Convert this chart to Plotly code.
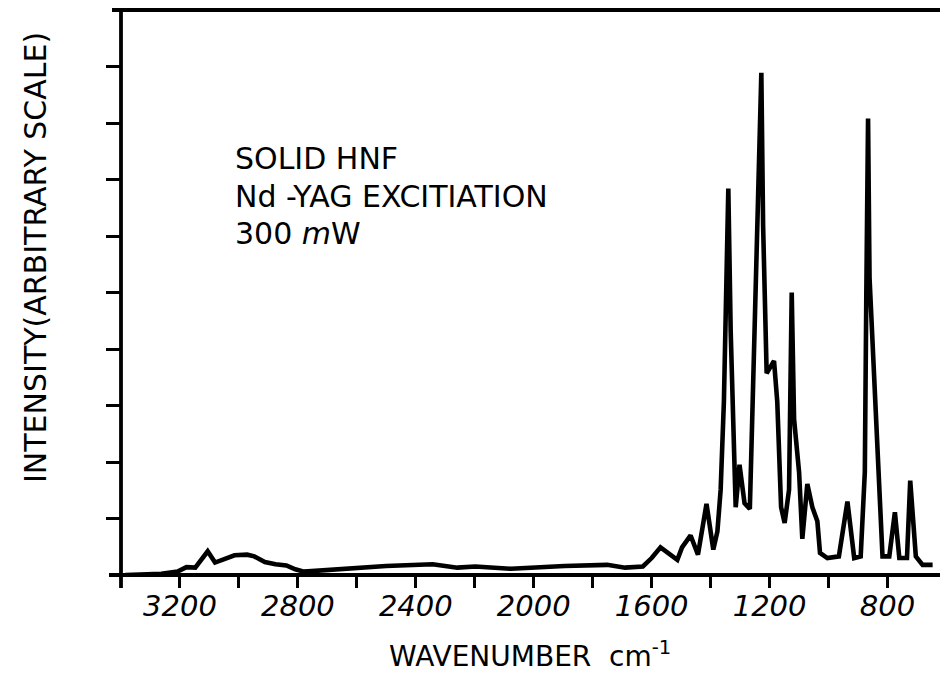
import plotly.graph_objects as go

# Raman spectrum of solid HNF, Nd-YAG excitation (wavenumber in cm^-1, arbitrary intensity)
wavenumber = [
    3385, 3263, 3208, 3178, 3148, 3130, 3106, 3081, 3051, 3015, 2972, 2948,
    2912, 2876, 2839, 2809, 2779, 2718, 2622, 2501, 2343, 2259, 2198, 2077,
    1896, 1751, 1690, 1630, 1600, 1570, 1513, 1497, 1468, 1443, 1414, 1391,
    1377, 1366, 1355, 1346, 1340, 1332, 1315, 1302, 1285, 1267, 1253, 1240,
    1228, 1222, 1210, 1185, 1174, 1161, 1149, 1134, 1125, 1117, 1100, 1089,
    1072, 1055, 1038, 1029, 1004, 965, 936, 913, 891, 877, 872, 866,
    861, 847, 834, 817, 794, 775, 760, 734, 723, 704, 681, 647,
]
intensity = [
    0.00, 0.02, 0.06, 0.14, 0.13, 0.25, 0.42, 0.22, 0.28, 0.35, 0.36, 0.33,
    0.23, 0.19, 0.17, 0.10, 0.06, 0.08, 0.11, 0.16, 0.19, 0.13, 0.15, 0.11,
    0.16, 0.18, 0.13, 0.15, 0.30, 0.49, 0.27, 0.49, 0.70, 0.36, 1.26, 0.45,
    0.77, 1.51, 3.07, 4.94, 6.84, 4.32, 1.20, 1.95, 1.27, 1.17, 4.32, 6.50,
    8.89, 6.18, 3.57, 3.79, 3.07, 1.20, 0.92, 1.51, 5.00, 2.76, 1.82, 0.64,
    1.61, 1.20, 0.95, 0.39, 0.30, 0.33, 1.30, 0.30, 0.33, 1.82, 4.94, 8.08,
    5.26, 3.70, 2.45, 0.33, 0.33, 1.11, 0.30, 0.30, 1.67, 0.33, 0.18, 0.18,
]

x_tick_values = [3200, 2800, 2400, 2000, 1600, 1200, 800]
x_tick_labels = ["3200", "2800", "2400", "2000", "1600", "1200", "800"]
x_minor_ticks = [3000, 2600, 2200, 1800, 1400, 1000]
y_tick_values = [1, 2, 3, 4, 5, 6, 7, 8, 9]

sample_lines = ["SOLID HNF", "Nd -YAG EXCITIATION", "300 <i>m</i>W"]

FONT = "DejaVu Sans"
INK = "black"

W, H = 940, 700
ML, MR, MT, MB = 121, 0, 10, 125
PW, PH = W - ML - MR, H - MT - MB


def px_to_paper_x(px):
    return (px - ML) / PW


def px_to_paper_y(py):
    return (H - MB - py) / PH


fig = go.Figure()
fig.add_trace(go.Scatter(
    x=wavenumber, y=intensity, mode="lines",
    line=dict(color=INK, width=4.6),
    hoverinfo="skip", showlegend=False,
))

fig.update_layout(
    width=W, height=H,
    margin=dict(l=ML, r=MR, t=MT, b=MB, pad=0),
    paper_bgcolor="white", plot_bgcolor="white",
    xaxis=dict(
        range=[3400, 622], showgrid=False, zeroline=False, showline=False,
        tickmode="array", tickvals=x_tick_values, ticktext=x_tick_labels,
        ticks="outside", ticklen=12, tickwidth=3, tickcolor=INK,
        ticklabelstandoff=-7,
        tickfont=dict(family=FONT, size=29, color=INK, style="italic"),
        minor=dict(tickmode="array", tickvals=x_minor_ticks, ticks="outside",
                   ticklen=12, tickwidth=3, tickcolor=INK, showgrid=False),
    ),
    yaxis=dict(
        range=[0, 10], showgrid=False, zeroline=False, showline=False,
        tickmode="array", tickvals=y_tick_values, showticklabels=False,
        ticks="outside", ticklen=14, tickwidth=3, tickcolor=INK,
    ),
)

# Frame: bottom axis, left axis and top border, with short overhangs
axis_w = 3.8
fig.add_shape(type="line", xref="paper", yref="paper",
              x0=px_to_paper_x(109), x1=1.0, y0=0, y1=0,
              line=dict(color=INK, width=axis_w))
fig.add_shape(type="line", xref="paper", yref="paper",
              x0=0, x1=0, y0=px_to_paper_y(588), y1=1.0,
              line=dict(color=INK, width=axis_w))
fig.add_shape(type="line", xref="paper", yref="paper",
              x0=px_to_paper_x(112), x1=1.0, y0=1.0, y1=1.0,
              line=dict(color=INK, width=axis_w))

# Sample description
for text, ypx in zip(sample_lines, [158, 196, 233]):
    fig.add_annotation(
        text=text, xref="paper", yref="paper",
        x=px_to_paper_x(233), y=px_to_paper_y(ypx),
        xanchor="left", yanchor="middle", showarrow=False,
        font=dict(family=FONT, size=30, color=INK),
    )

# Axis titles
fig.add_annotation(
    text="INTENSITY(ARBITRARY SCALE)", xref="paper", yref="paper",
    x=px_to_paper_x(35), y=px_to_paper_y(258), textangle=-90,
    xanchor="center", yanchor="middle", showarrow=False,
    font=dict(family=FONT, size=30, color=INK),
)
fig.add_annotation(
    text="WAVENUMBER  cm<sup>-1</sup>", xref="paper", yref="paper",
    x=px_to_paper_x(530), y=px_to_paper_y(654),
    xanchor="center", yanchor="middle", showarrow=False,
    font=dict(family=FONT, size=28, color=INK),
)

fig.write_html("out.html")
